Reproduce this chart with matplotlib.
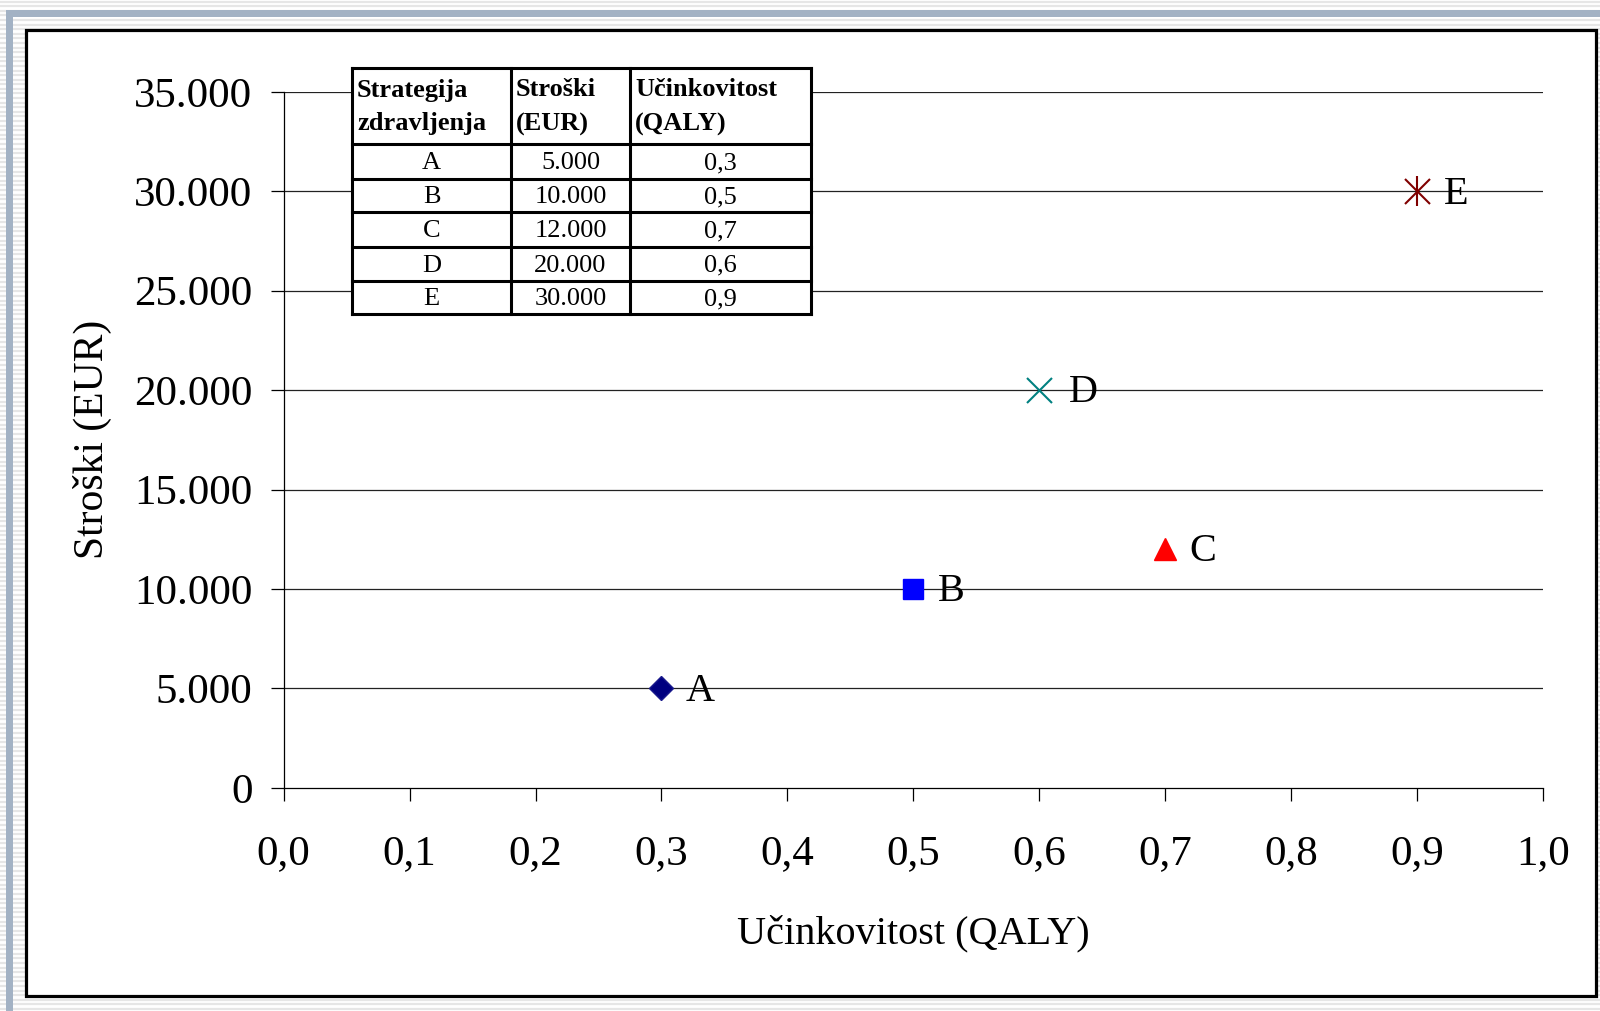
#!/usr/bin/env python
"""Cost vs. effectiveness scatter of treatment strategies, with a data table."""

import matplotlib as mpl
mpl.use('Agg')
import matplotlib.pyplot as plt
from matplotlib.patches import Rectangle

FIGSIZE = (16, 10.11)
DPI = 100
FONT = ['Liberation Serif', 'DejaVu Serif']

strategies = ['A', 'B', 'C', 'D', 'E']
costs = [5000, 10000, 12000, 20000, 30000]
qaly = [0.3, 0.5, 0.7, 0.6, 0.9]

x_ticks = [0.0, 0.1, 0.2, 0.3, 0.4, 0.5, 0.6, 0.7, 0.8, 0.9, 1.0]
y_ticks = [0, 5000, 10000, 15000, 20000, 25000, 30000, 35000]

header = ['Strategija\nzdravljenja', 'Stroški\n(EUR)', 'Učinkovitost\n(QALY)']

# marker style per strategy, plus horizontal offset of its label (pt)
styles = {
    'A': dict(marker='D', ms=12, color='#000080', mec='#1a1a8c', mew=1),
    'B': dict(marker='s', ms=15, color='#0000ff', mec='#0000ff', mew=1),
    'C': dict(marker='^', ms=16, color='#ff0000', mec='#ff0000', mew=1),
    'D': dict(marker='x', ms=18, color='#008080', mec='#008080', mew=1.5),
    'E': dict(marker='x', ms=18, color='#800000', mec='#800000', mew=1.5),
}
label_dx = {'A': 17.5, 'B': 18, 'C': 17.5, 'D': 21, 'E': 19.5}

plt.rcParams['font.family'] = FONT


def fmt_cost(v):
    """Thousands with a dot separator."""
    return '{:,}'.format(int(v)).replace(',', '.')


def fmt_dec(v):
    """One decimal with a comma."""
    return '{:.1f}'.format(v).replace('.', ',')


def draw_background(fig):
    """Slide-like frame: striped margin, blue-grey band, black box."""
    bg = fig.add_axes([0, 0, 1, 1], zorder=-10)
    bg.set_xlim(0, 1600)
    bg.set_ylim(1011, 0)
    bg.axis('off')
    y = 1.5
    while y < 1011:
        bg.axhline(y, color='#e6e6e6', lw=1.6, zorder=1)
        y += 4.6
    bg.add_patch(Rectangle((6, 10), 1594, 6.5, color='#a3b2c4', lw=0,
                           zorder=2))
    bg.add_patch(Rectangle((6, 10), 6.5, 1001, color='#a3b2c4', lw=0,
                           zorder=2))
    bg.add_patch(Rectangle((26, 29.5), 1570, 966.5, facecolor='white',
                           edgecolor='black', lw=2.3, zorder=3))


def draw_table(fig):
    """Strategy table in the top left of the plot."""
    left, right, top, bottom = 352, 811, 68, 314
    col_x = [0, 159, 278, 459]
    row_y = [0, 76, 111, 144, 179, 213, 246]
    tax = fig.add_axes([left / 1600, 1 - bottom / 1011,
                        (right - left) / 1600, (bottom - top) / 1011],
                       zorder=5)
    tax.set_xlim(0, right - left)
    tax.set_ylim(bottom - top, 0)
    tax.axis('off')
    tax.add_patch(Rectangle((0, 0), right - left, bottom - top,
                            facecolor='white', edgecolor='none'))
    for cx in col_x:
        tax.plot([cx, cx], [0, row_y[-1]], color='black', lw=2.2,
                 solid_capstyle='projecting', clip_on=False)
    for ry in row_y:
        tax.plot([0, col_x[-1]], [ry, ry], color='black', lw=2.2,
                 solid_capstyle='projecting', clip_on=False)

    for i, txt in enumerate(header):
        tax.text(col_x[i] + 5, row_y[1] / 2 + 1, txt, fontsize=19,
                 fontweight='bold', ha='left', va='center',
                 linespacing=1.6)

    for r, (name, c, q) in enumerate(zip(strategies, costs, qaly)):
        yc = (row_y[r + 1] + row_y[r + 2]) / 2 + 1.5
        cells = [name, fmt_cost(c), fmt_dec(q)]
        for i, txt in enumerate(cells):
            tax.text((col_x[i] + col_x[i + 1]) / 2, yc, txt, fontsize=19,
                     ha='center', va='center')


fig = plt.figure(figsize=FIGSIZE, dpi=DPI)
draw_background(fig)

ax = fig.add_axes([283.7 / 1600, 1 - 787.8 / 1011,
                   (1543 - 283.7) / 1600, (787.8 - 91.8) / 1011])
ax.patch.set_visible(False)

for y in y_ticks[1:]:
    ax.axhline(y, color='#222222', lw=0.9, zorder=1)

for name, x, y in zip(strategies, qaly, costs):
    ax.plot([x], [y], linestyle='none', zorder=3, clip_on=False,
            **styles[name])
    if name == 'E':
        # asterisk: cross plus a vertical stroke
        ax.plot([x], [y], linestyle='none', marker='|', ms=21,
                mec='#800000', mew=1.5, zorder=3, clip_on=False)
    ax.annotate(name, (x, y), xytext=(label_dx[name], -2),
                textcoords='offset points', fontsize=29, ha='left',
                va='center', zorder=4)

ax.set_xlim(0, 1)
ax.set_ylim(0, 35000)
ax.set_xticks(x_ticks)
ax.set_xticklabels([fmt_dec(v) for v in x_ticks])
ax.set_yticks(y_ticks)
ax.set_yticklabels([fmt_cost(v) for v in y_ticks])
ax.tick_params(axis='both', direction='out', length=9.5, width=0.9,
               labelsize=31, colors='black')
ax.tick_params(axis='y', pad=13)
ax.tick_params(axis='x', pad=24)

for side in ('top', 'right'):
    ax.spines[side].set_visible(False)
for side in ('left', 'bottom'):
    ax.spines[side].set_linewidth(0.9)

fig.text(913 / 1600, 1 - 934 / 1011, 'Učinkovitost (QALY)', fontsize=29,
         ha='center', va='center')
fig.text(92 / 1600, 1 - 439 / 1011, 'Stroški (EUR)', fontsize=30,
         ha='center', va='center', rotation=90)

draw_table(fig)

plt.savefig('out.png', dpi=DPI)
